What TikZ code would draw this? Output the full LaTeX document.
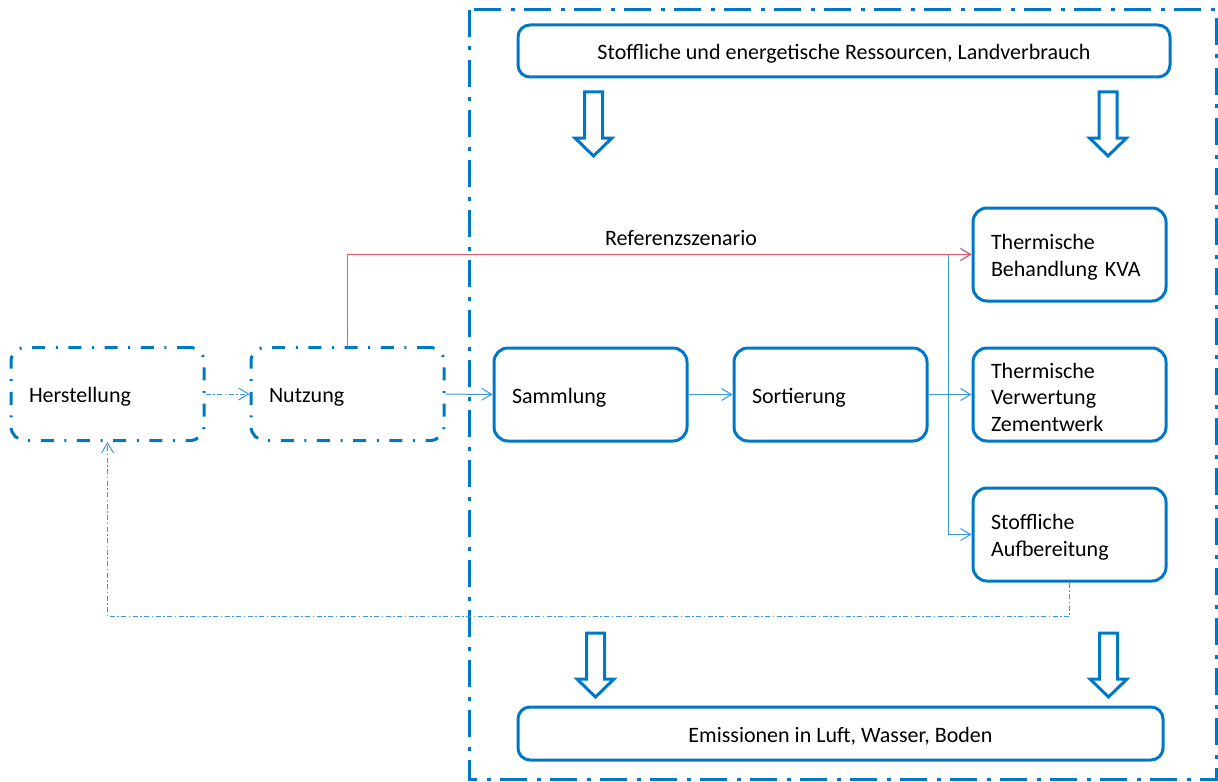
\documentclass[tikz,border=0pt]{standalone}
\usepackage{fontspec}
\setmainfont{Carlito}
\usetikzlibrary{arrows.meta}
\definecolor{mainblue}{RGB}{0,120,200}
\definecolor{lineblue}{RGB}{60,150,220}
\definecolor{refred}{RGB}{230,90,110}
\tikzset{
    box/.style={draw=mainblue, line width=1.5pt, rounded corners=7pt, text width=78.5pt, inner xsep=9pt, align=left, minimum height=46.5pt, font=\fontsize{11}{13.25}\selectfont, execute at begin node={\rule{0pt}{10.5pt}}},
    dashbox/.style={box, dash pattern=on 6.5pt off 5.3pt on 1pt off 5.3pt},
    widebox/.style={draw=mainblue, line width=1.5pt, rounded corners=6pt, align=center, font=\fontsize{11}{13.25}\selectfont, execute at begin node={\rule{0pt}{10.5pt}}},
    flow/.style = {-{Straight Barb[length=5pt,width=6pt]}, lineblue, line width=0.5pt},
    refflow/.style = {flow, refred},
    backflow/.style = {flow, dash pattern=on 2.5pt off 1.25pt on 0.75pt off 1.25pt},
    bigarrow/.style = {draw=mainblue, line width=1.5pt, fill=white},
    frame/.style = {draw=mainblue, line width=1.5pt, dash pattern=on 13.5pt off 4.75pt on 2pt off 4.75pt} }

\begin{document}
\begin{tikzpicture}[x=0.5pt, y=-0.5pt]
			\useasboundingbox (0,0) rectangle (1218,781);
			\draw[frame] (469,10) rectangle (1216,779);
			\node[widebox, minimum width=326pt, minimum height=26pt] (res) at (844,51) {Stoffliche und energetische Ressourcen, Landverbrauch};
			\node[widebox, minimum width=322.5pt, minimum height=26.5pt] (emi) at (840.5,733.5) {Emissionen in Luft, Wasser, Boden};
			\node[dashbox] (hers) at (107.5,394) {Herstellung};
			\node[dashbox] (nutz) at (347.5,394) {Nutzung};
			\node[box] (samm) at (590.5,394.5) {Sammlung};
			\node[box] (sort) at (830.5,394.5) {Sortierung};
			\node[box] (kva) at (1069.5,254.5) {Thermische\\Behandlung KVA};
			\node[box] (zem) at (1069.5,394.5) {Thermische\\Verwertung\\Zementwerk};
			\node[box] (auf) at (1069.5,534.5) {Stoffliche\\Aufbereitung};
			\node[font=\fontsize{11}{13.25}\selectfont] (reflabel) at (681,238) {Referenzszenario};
			\coordinate (split) at (948,394.5);
			% ----
			\foreach \ax/\ay in {593.5/92, 1108/92, 595.5/633, 1108.5/633}
				\draw[bigarrow] (\ax-9,\ay) -- (\ax+9,\ay) -- (\ax+9,\ay+46) -- (\ax+18.5,\ay+46) -- (\ax,\ay+64) -- (\ax-18.5,\ay+46) -- (\ax-9,\ay+46) -- cycle;
			% ----
			\draw[backflow] (hers) -- (nutz);
			\draw[flow] (nutz) -- (samm);
			\draw[flow] (samm) -- (sort);
			\draw[flow] (sort) -- (split) |- (kva.west);
			\draw[flow] (split) -- (zem);
			\draw[flow] (split) |- (auf.west);
			\draw[refflow] (nutz.north) |- (kva.west);
			\draw[backflow] (auf.south) -- ++(0,34) -| (hers.south);
		\end{tikzpicture}
\end{document}
